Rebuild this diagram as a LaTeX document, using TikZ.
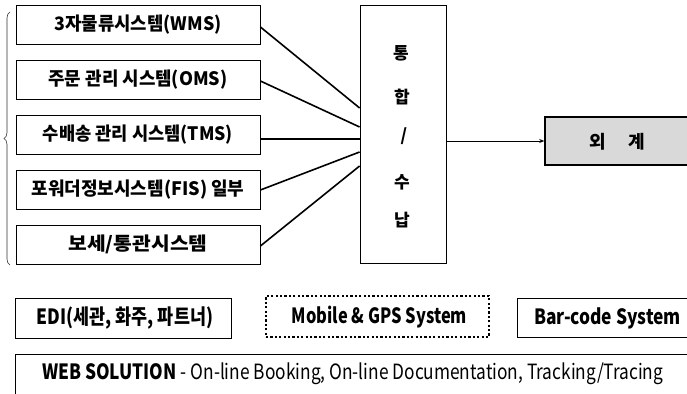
\documentclass[tikz,border=0pt]{standalone}
\usepackage{fontspec}
\usepackage{graphicx}
\setmainfont{Noto Sans CJK KR}
\usetikzlibrary{decorations.pathreplacing,arrows.meta}
\newcommand\fitto[2]{\resizebox{#1}{\height}{#2}}
\begin{document}
\begin{tikzpicture}[x=1pt,y=-1pt,
  font=\bfseries\fontsize{18.5}{22}\selectfont,
  sysbox/.style={draw, line width=0.8pt, inner sep=0pt, minimum width=244pt, minimum height=39pt},
  link/.style={line width=1.6pt},
  hubbox/.style={draw, line width=0.8pt, inner sep=0pt, minimum width=86pt, minimum height=258pt},
  hubtxt/.style={font=\bfseries\fontsize{17}{20}\selectfont, inner sep=0pt},
  accbox/.style={draw, line width=1.5pt, fill=gray!30, inner sep=0pt, minimum width=155pt, minimum height=48pt},
  lowbox/.style={draw, line width=0.8pt, inner sep=0pt},
  dotbox/.style={draw, line width=2.2pt, dash pattern=on 2.2pt off 2.2pt, inner sep=0pt},
  lowtxt/.style={font=\bfseries\fontsize{21}{24}\selectfont, inner sep=0pt}
]
\useasboundingbox (0,0) rectangle (687,393);
\clip (0,0) rectangle (687,393);

% left system boxes
\node[sysbox] (b1) at (138,24.5) {\fitto{167pt}{3자물류시스템(WMS)}};
\node[sysbox] (b2) at (138,79.5) {\fitto{179pt}{주문 관리 시스템(OMS)}};
\node[sysbox] (b3) at (138,134.5) {\fitto{190pt}{수배송 관리 시스템(TMS)}};
\node[sysbox] (b4) at (138,189.5) {\fitto{213pt}{포워더정보시스템(FIS) 일부}};
\node[sysbox] (b5) at (138,244.5) {\fitto{139pt}{보세/통관시스템}};

% brace
\coordinate (brtop) at (10,12);
\coordinate (brbot) at (10,265);
\draw[decorate, decoration={brace, amplitude=6pt}, line width=0.6pt, black!80] (brbot) -- (brtop);

% hub
\node[hubbox] (hub) at (403,134) {};
\node[hubtxt] (h1) at (401,53) {통};
\node[hubtxt] (h2) at (402,97) {합};
\node[hubtxt] (h3) at (404,136) {/};
\node[hubtxt] (h4) at (402,182) {수};
\node[hubtxt] (h5) at (402,220) {납};

% connectors
\draw[link] ([yshift=-2.5pt]b1.east) -- ([yshift=26pt]hub.west);
\draw[link] ([yshift=-1.5pt]b2.east) -- ([yshift=7pt]hub.west);
\draw[link] ([yshift=-4.5pt]b3.east) -- ([yshift=-5pt]hub.west);
\draw[link] ([yshift=-0.5pt]b4.east) -- ([yshift=-18pt]hub.west);
\draw[link] ([yshift=-1.5pt]b5.east) -- ([yshift=-32pt]hub.west);

% accounting
\node[accbox] (acc) at (622.5,141) {};
\node[font=\bfseries\fontsize{18}{20}\selectfont, inner sep=0pt] (acct) at (617.5,142) {외\hspace{22pt}계};
\draw[line width=0.8pt, -{Stealth[length=5pt,width=4pt]}] (hub.east |- acc.west) -- (acc.west);

% bottom row
\node[lowbox, minimum width=216pt, minimum height=40pt] (edi) at (123,318) {};
\node[lowtxt] (edit) at (125,318) {\fitto{176pt}{EDI(세관, 화주, 파트너)}};
\node[dotbox, minimum width=223pt, minimum height=41pt] (mob) at (377.5,316.5) {};
\node[lowtxt] (mobt) at (379.5,317) {\fitto{175pt}{Mobile \& GPS System}};
\node[lowbox, minimum width=183pt, minimum height=39pt] (bar) at (608.5,317.5) {};
\node[lowtxt] (bart) at (607.5,318) {\fitto{147pt}{Bar-code System}};

\node[lowbox, minimum width=705pt, minimum height=56pt] (web) at (367.5,382) {};
\node[lowtxt, anchor=west] (webt) at (42,374) {\fitto{621pt}{WEB SOLUTION \mdseries - On-line Booking, On-line Documentation, Tracking/Tracing}};
\end{tikzpicture}
\end{document}
